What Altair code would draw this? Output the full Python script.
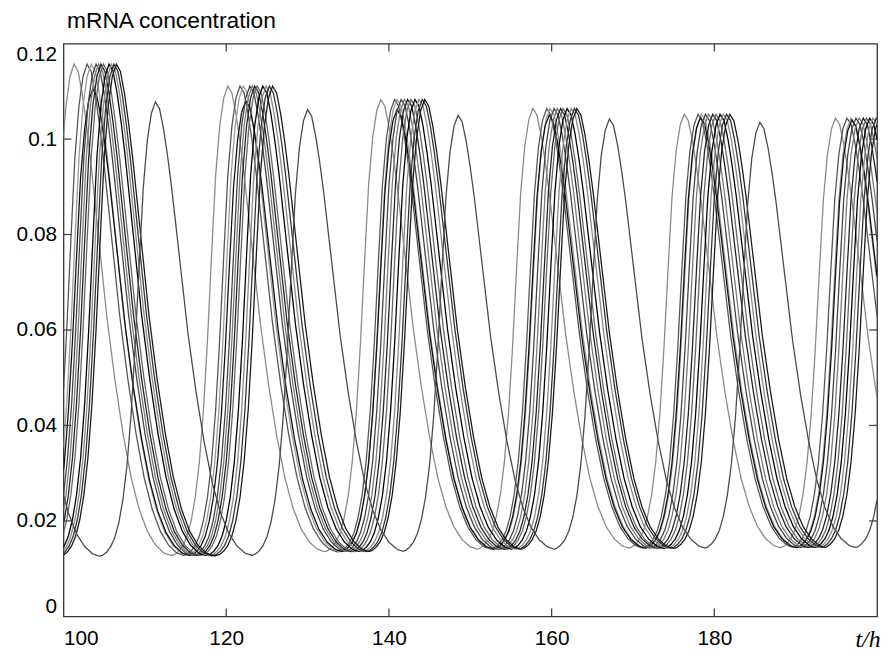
import altair as alt
import numpy as np
import pandas as pd

# ---- values ----
curve_names = ["lead", "c1", "c2", "c3", "c4", "c5", "c6", "c7", "c8", "c9", "c10", "c11", "lag"]
curve_colors = ["#8a8a8a", "#555555", "#9a9a9a", "#111111", "#444444", "#7a7a7a",
                "#222222", "#666666", "#000000", "#888888", "#333333", "#1a1a1a", "#4a4a4a"]

# peak times (h) of each curve, including one peak before and one after the window
peak_times = {
    "lead": [82.4, 101.3, 120.2, 139.0, 157.7, 176.3, 194.9, 213.5],
    "c1":   [84.0, 102.9, 121.7, 140.7, 159.4, 178.0, 196.3, 214.9],
    "c2":   [84.5, 103.4, 122.1, 141.0, 159.8, 178.4, 196.8, 215.4],
    "c3":   [84.8, 103.6, 122.4, 141.0, 159.7, 178.3, 196.9, 215.5],
    "c4":   [85.1, 104.0, 122.9, 141.5, 160.3, 178.9, 197.4, 216.0],
    "c5":   [85.4, 104.3, 123.2, 141.9, 160.7, 179.3, 197.8, 216.4],
    "c6":   [85.7, 104.6, 123.5, 142.3, 161.1, 179.8, 198.3, 216.9],
    "c7":   [86.0, 104.9, 123.8, 142.7, 161.4, 180.2, 198.7, 217.3],
    "c8":   [86.7, 105.6, 124.5, 143.2, 161.9, 180.7, 199.1, 217.7],
    "c9":   [87.0, 105.9, 124.9, 143.7, 162.4, 181.1, 199.5, 218.1],
    "c10":  [87.3, 106.2, 125.3, 144.1, 162.8, 181.5, 199.9, 218.5],
    "c11":  [87.6, 106.5, 125.7, 144.4, 163.1, 181.9, 200.3, 218.9],
    "lag":  [92.6, 111.3, 130.0, 148.5, 167.1, 185.6, 204.1, 222.6],
}
# peak heights per cycle
main_heights  = [0.1200, 0.1157, 0.1111, 0.1083, 0.1064, 0.1052, 0.1044, 0.1040]
lower_heights = [0.1140, 0.1105, 0.1080, 0.1062, 0.1050, 0.1045, 0.1040, 0.1038]
lag_heights   = [0.1090, 0.1078, 0.1062, 0.1050, 0.1042, 0.1035, 0.1030, 0.1030]
# trough level between consecutive peaks
trough_levels = [0.0125, 0.0127, 0.0135, 0.0140, 0.0142, 0.0143, 0.0144]

# shape of one cycle (normalised 0 = trough, 1 = peak)
fall_tau = [0, 0.5, 1, 1.5, 2, 3, 4, 5, 6, 7, 8, 9, 10, 11, 12]
fall_val = [1, 0.985, 0.94, 0.88, 0.81, 0.65, 0.49, 0.36, 0.25, 0.16, 0.095, 0.05, 0.022, 0.006, 0]
rise_tau = [0, 0.5, 1, 1.5, 2, 2.5, 3, 3.5, 4, 4.5, 5, 5.5, 6, 6.5, 7]
rise_val = [1, 0.975, 0.915, 0.81, 0.64, 0.46, 0.31, 0.2, 0.125, 0.075, 0.042, 0.022, 0.01, 0.003, 0]

x_ticks = [100, 120, 140, 160, 180]
x_inner_ticks = [120, 140, 160, 180]
y_ticks = [0, 0.02, 0.04, 0.06, 0.08, 0.1, 0.12]
y_inner_ticks = [0.02, 0.04, 0.06, 0.08, 0.1]

# ---- build table ----
heights = {n: main_heights for n in curve_names}
heights["c3"] = lower_heights
heights["lag"] = lag_heights

t = np.round(np.arange(100, 200.0001, 0.1), 2)
frames = []
for name in curve_names:
    P = peak_times[name]
    H = heights[name]
    vals = []
    for ti in t:
        k = int(np.searchsorted(P, ti, side="right")) - 1
        tr = trough_levels[k]
        f = np.interp(ti - P[k], fall_tau, fall_val)
        r = np.interp(P[k + 1] - ti, rise_tau, rise_val)
        vals.append(tr + max((H[k] - tr) * f, (H[k + 1] - tr) * r))
    frames.append(pd.DataFrame({"t": t, "mRNA": np.round(vals, 5), "curve": name}))
df = pd.concat(frames, ignore_index=True)

W, H_ = 821, 578
TICK = 8
x_scale = alt.Scale(domain=[100, 200], nice=False, zero=False)
y_scale = alt.Scale(domain=[0, 0.12], nice=False, zero=False)
FONT = "Liberation Sans"

x_axis = alt.Axis(
    values=x_ticks, ticks=False, domain=False, grid=False, labelFlush=True,
    labelPadding=11, labelFont=FONT, labelFontSize=21, labelColor="#000",
    title="t/h", titleFont="Liberation Serif", titleFontStyle="italic",
    titleFontWeight="normal", titleFontSize=24, titleColor="#000",
    titleX=W + 3, titleY=30, titleAlign="right", titleBaseline="alphabetic")
y_axis = alt.Axis(
    values=y_ticks, labelExpr="toString(datum.value)", ticks=False, domain=False,
    grid=False, labelFlush=True, labelPadding=7, labelFont=FONT, labelFontSize=21,
    labelColor="#000",
    title="mRNA concentration", titleAngle=0, titleX=3, titleY=-16,
    titleAlign="left", titleBaseline="alphabetic", titleFont=FONT,
    titleFontWeight="normal", titleFontSize=23, titleColor="#000")

lines = alt.Chart(df).mark_line(strokeWidth=1.3, clip=True).encode(
    x=alt.X("t:Q", scale=x_scale, axis=x_axis),
    y=alt.Y("mRNA:Q", scale=y_scale, axis=y_axis),
    color=alt.Color("curve:N", scale=alt.Scale(domain=curve_names, range=curve_colors), legend=None),
    order="t:Q",
)

xt = pd.DataFrame({"t": x_inner_ticks})
yt = pd.DataFrame({"mRNA": y_inner_ticks})
tick_style = dict(color="#444", strokeWidth=1.3)

bottom_ticks = alt.Chart(xt).mark_rule(**tick_style).encode(
    x=alt.X("t:Q", scale=x_scale, axis=x_axis), y=alt.value(H_), y2=alt.value(H_ - TICK))
top_ticks = alt.Chart(xt).mark_rule(**tick_style).encode(
    x=alt.X("t:Q", scale=x_scale, axis=x_axis), y=alt.value(0), y2=alt.value(TICK))
left_ticks = alt.Chart(yt).mark_rule(**tick_style).encode(
    y=alt.Y("mRNA:Q", scale=y_scale, axis=y_axis), x=alt.value(0), x2=alt.value(TICK))
right_ticks = alt.Chart(yt).mark_rule(**tick_style).encode(
    y=alt.Y("mRNA:Q", scale=y_scale, axis=y_axis), x=alt.value(W), x2=alt.value(W - TICK))

chart = alt.layer(lines, bottom_ticks, top_ticks, left_ticks, right_ticks).properties(
    width=W, height=H_,
    autosize=alt.AutoSizeParams(type="none"),
    padding={"left": 56, "top": 33, "right": 6, "bottom": 33},
    background="white",
).configure_view(stroke="#333", strokeWidth=1.3)

chart.save("out.html", embed_options={"renderer": "svg", "actions": False})
